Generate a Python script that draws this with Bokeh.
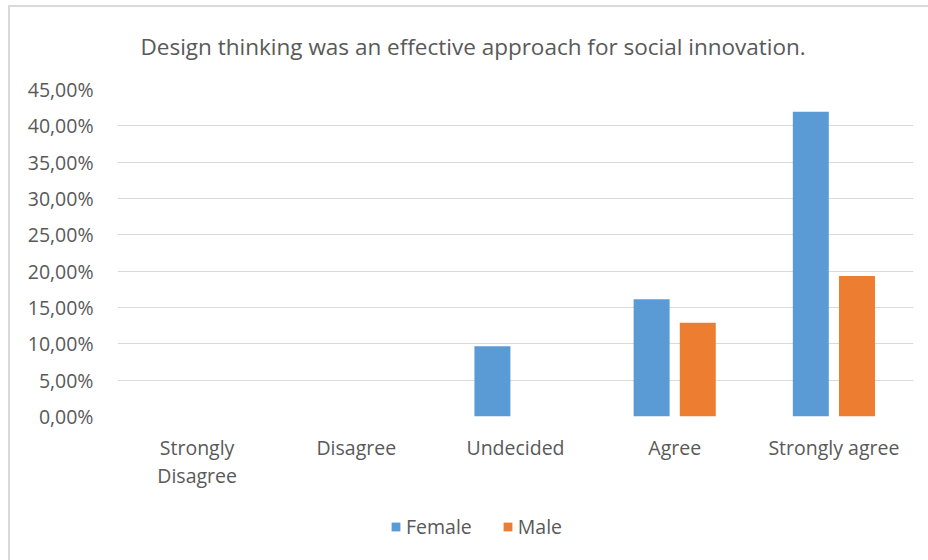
from bokeh.plotting import figure
from bokeh.layouts import column
from bokeh.models import ColumnDataSource, FactorRange, CustomJSTickFormatter, Legend, LegendItem, FixedTicker, Range1d
from bokeh.transform import dodge
from bokeh.embed import file_html
from bokeh.resources import INLINE

categories = ["Strongly\nDisagree", "Disagree", "Undecided", "Agree", "Strongly agree"]
female = [0.0, 0.0, 0.0968, 0.1613, 0.4194]
male = [0.0, 0.0, 0.0, 0.1290, 0.1935]
y_ticks = [0.0, 0.05, 0.10, 0.15, 0.20, 0.25, 0.30, 0.35, 0.40, 0.45]
title_text = "Design thinking was an effective  approach for social innovation."
series_names = ["Female", "Male"]
series_colors = ["#5B9BD5", "#ED7D31"]

FONT = "Open Sans"
TXT = "#595959"

source = ColumnDataSource(dict(cat=categories, female=female, male=male))

p = figure(frame_width=796, frame_height=327, x_range=FactorRange(*categories, range_padding=0),
           y_range=(0, 0.45), output_backend="svg", toolbar_location=None,
           min_border_left=117, min_border_right=15, min_border_top=89, min_border_bottom=84)

p.title.text = title_text
p.title.align = "left"
p.title.text_font = FONT
p.title.text_font_size = "22.5px"
p.title.text_font_style = "normal"
p.title.text_color = TXT
p.title.standoff = 56
p.title.offset = 23

p.vbar(x=dodge("cat", -0.145, range=p.x_range), top="female", width=0.226, source=source,
       fill_color=series_colors[0], line_color=None)
p.vbar(x=dodge("cat", 0.145, range=p.x_range), top="male", width=0.226, source=source,
       fill_color=series_colors[1], line_color=None)

p.outline_line_color = None
p.border_fill_color = None
p.xgrid.grid_line_color = None
p.ygrid.grid_line_color = "#D9D9D9"
p.ygrid.grid_line_width = 1

p.yaxis.ticker = FixedTicker(ticks=y_ticks)
p.yaxis.formatter = CustomJSTickFormatter(code="return (tick*100).toFixed(2).replace('.', ',') + '%';")
for ax in (p.xaxis, p.yaxis):
    ax.axis_line_color = None
    ax.major_tick_line_color = None
    ax.minor_tick_line_color = None
    ax.major_label_text_font = FONT
    ax.major_label_text_font_size = "19.5px"
    ax.major_label_text_color = TXT
p.yaxis.major_label_standoff = 18
p.xaxis.major_label_standoff = 11
p.xaxis.major_label_text_line_height = 1.05

# legend strip below the chart (bars drawn out of view, only their legend entries show)
lf = figure(width=928, height=60, x_range=FactorRange(*categories, range_padding=0),
            y_range=Range1d(10, 11), output_backend="svg", toolbar_location=None,
            x_axis_location=None, y_axis_location=None,
            min_border_left=0, min_border_right=0, min_border_top=0, min_border_bottom=0)
lf.outline_line_color = None
lf.border_fill_color = None
lf.background_fill_color = None
lf.xgrid.visible = False
lf.ygrid.visible = False
r1 = lf.vbar(x=dodge("cat", -0.145, range=lf.x_range), top="female", width=0.226, source=source,
             fill_color=series_colors[0], line_color=None)
r2 = lf.vbar(x=dodge("cat", 0.145, range=lf.x_range), top="male", width=0.226, source=source,
             fill_color=series_colors[1], line_color=None)

legend = Legend(items=[LegendItem(label=series_names[0], renderers=[r1]),
                       LegendItem(label=series_names[1], renderers=[r2])],
                orientation="horizontal", location=(273, 20))
legend.label_text_font = FONT
legend.label_text_font_size = "19.5px"
legend.label_text_color = TXT
legend.glyph_width = 11
legend.glyph_height = 11
legend.spacing = 30
legend.label_standoff = 5
legend.padding = 2
legend.border_line_color = None
legend.background_fill_alpha = 0
legend.margin = 0
lf.add_layout(legend)

layout = column(p, lf, spacing=0)
layout.styles = {
    "background": "linear-gradient(#D9D9D9,#D9D9D9) 8px 5px / 2px 100% no-repeat, "
                  "linear-gradient(#D9D9D9,#D9D9D9) 8px 5px / 100% 2px no-repeat, white"
}

open("out.html", "w").write(file_html(layout, INLINE))
